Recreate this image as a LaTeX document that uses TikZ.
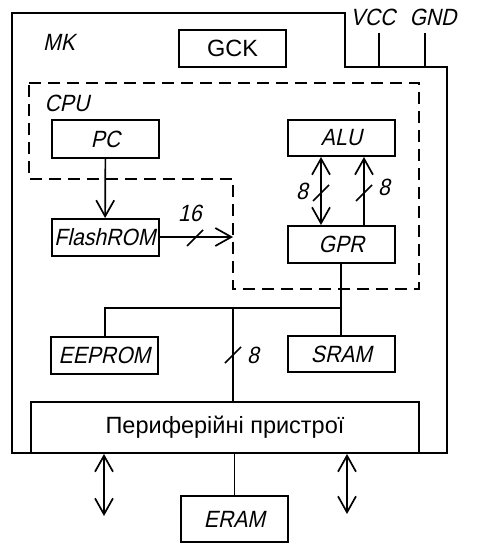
\documentclass[tikz,border=0pt]{standalone}
\usepackage{fontspec}
\setmainfont{Liberation Sans}
\newfontfamily\iso{Liberation Sans}[FakeStretch=0.9,FakeSlant=0.22]
\usetikzlibrary{arrows.meta}
\begin{document}
\begin{tikzpicture}[x=1pt,y=-1pt,
  box/.style={draw,line width=2pt,minimum width=107pt,inner sep=0pt},
  lbl/.style={font=\iso\fontsize{23.5}{28}\selectfont,inner sep=0pt},
  rtxt/.style={font=\fontsize{23.5}{27}\selectfont},
  wire/.style={line width=1.7pt},
  arr/.style={wire,-{Straight Barb[length=16pt,width=18pt]}},
  darr/.style={wire,{Straight Barb[length=16pt,width=18pt]}-{Straight Barb[length=16pt,width=18pt]}},
  tickmark/.style={line width=1.7pt},
  cpuline/.style={line width=2pt,dash pattern=on 12pt off 7pt}]
\useasboundingbox (0,0) rectangle (489,559);
% outer MK body
\draw[line width=2pt] (12,453) -- (12,13) -- (345,13) -- (345,67) -- (447,67) -- (447,453) -- cycle;
% CPU region
\draw[cpuline] (29,83) -- (419,83) -- (419,289) -- (233,289) -- (233,179) -- (29,179) -- cycle;
% labels
\node[lbl] (mk) at (59,42) {MK};
\node[lbl] (cpu) at (67,103) {CPU};
\node[lbl] (vcc) at (373,17) {VCC};
\node[lbl] (gnd) at (433,17) {GND};
\coordinate (vccend) at (379,67);
\coordinate (gndend) at (425,67);
\draw[wire] (vccend |- 0,33) -- (vccend);
\draw[wire] (gndend |- 0,33) -- (gndend);
% boxes
\node[box,minimum height=37pt,rtxt] (gck) at (232.5,48.5) {GCK};
\node[box,minimum height=38pt,lbl,draw,line width=2pt] (pc) at (105.5,139) {PC};
\node[box,minimum height=37pt,lbl,draw,line width=2pt] (flash) at (105,237.5) {FlashROM};
\node[box,minimum height=36pt,lbl,draw,line width=2pt] (alu) at (341.5,138) {ALU};
\node[box,minimum height=37pt,lbl,draw,line width=2pt] (gpr) at (341.5,244.5) {GPR};
\node[box,minimum height=37pt,lbl,draw,line width=2pt] (eeprom) at (104.5,355.5) {EEPROM};
\node[box,minimum height=36pt,lbl,draw,line width=2pt] (sram) at (341.5,354) {SRAM};
\node[box,minimum width=388pt,minimum height=51pt,rtxt] (periph) at (225,427.5) {Периферійні пристрої};
\node[box,minimum height=46pt,lbl,draw,line width=2pt] (eram) at (234.5,519) {ERAM};
% helper coordinates
\coordinate (fend) at (233,237);
\coordinate (xl) at (321,0);
\coordinate (xr) at (364,0);
\coordinate (busl) at (105,308);
\coordinate (busm) at (233,308);
\coordinate (busr) at (341,308);
\coordinate (pl) at (104,516);
\coordinate (pr) at (347,514);
% connectors
\draw[arr] (pc) -- (flash);
\draw[arr] (flash.east |- fend) -- (fend);
\draw[darr] (gpr.north -| xl) -- (alu.south -| xl);
\draw[arr] (gpr.north -| xr) -- (alu.south -| xr);
\draw[wire] (gpr.south -| busr) -- (sram.north -| busr);
\draw[wire] (eeprom.north -| busl) -- (busl) -- (busr);
\draw[wire] (busm) -- (periph.north -| busm);
\draw[wire] (periph.south -| eram) -- (eram.north);
\draw[darr] (periph.south -| pl) -- (pl);
\draw[darr] (periph.south -| pr) -- (pr);
% bus width ticks
\draw[tickmark] (195,238) ++(-8,8) -- ++(16,-16);
\draw[tickmark] (321,193) ++(-8,8) -- ++(16,-16);
\draw[tickmark] (364,193) ++(-8,8) -- ++(16,-16);
\draw[tickmark] (233,355) ++(-8,8) -- ++(16,-16);
\node[lbl] (w16) at (190,213) {16};
\node[lbl] (w8a) at (302,191) {8};
\node[lbl] (w8b) at (384,187) {8};
\node[lbl] (w8c) at (253,355) {8};
\end{tikzpicture}
\end{document}
